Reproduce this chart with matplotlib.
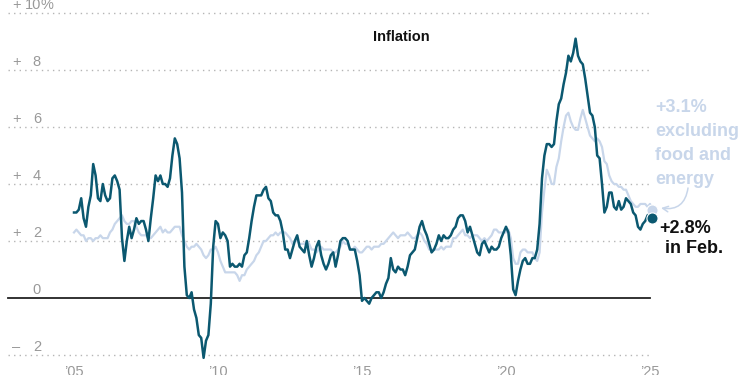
import matplotlib
matplotlib.use("Agg")
import matplotlib.pyplot as plt
import numpy as np

plt.rcParams['font.family'] = ['Liberation Sans', 'DejaVu Sans']

# Monthly year-over-year CPI change, Jan 2005 - Feb 2025
headline = [
    3.0, 3.0, 3.1, 3.5, 2.8, 2.5, 3.2, 3.6, 4.7, 4.3, 3.5, 3.4,   # 2005
    4.0, 3.6, 3.4, 3.5, 4.2, 4.3, 4.1, 3.8, 2.1, 1.3, 2.0, 2.5,   # 2006
    2.1, 2.4, 2.8, 2.6, 2.7, 2.7, 2.4, 2.0, 2.8, 3.5, 4.3, 4.1,   # 2007
    4.3, 4.0, 4.0, 3.9, 4.2, 5.0, 5.6, 5.4, 4.9, 3.7, 1.1, 0.1,   # 2008
    0.0, 0.2, -0.4, -0.7, -1.3, -1.4, -2.1, -1.5, -1.3, -0.2, 1.8, 2.7,  # 2009
    2.6, 2.1, 2.3, 2.2, 2.0, 1.1, 1.2, 1.1, 1.1, 1.2, 1.1, 1.5,   # 2010
    1.6, 2.1, 2.7, 3.2, 3.6, 3.6, 3.6, 3.8, 3.9, 3.5, 3.4, 3.0,   # 2011
    2.9, 2.9, 2.7, 2.3, 1.7, 1.7, 1.4, 1.7, 2.0, 2.2, 1.8, 1.7,   # 2012
    1.6, 2.0, 1.5, 1.1, 1.4, 1.8, 2.0, 1.5, 1.2, 1.0, 1.2, 1.5,   # 2013
    1.6, 1.1, 1.5, 2.0, 2.1, 2.1, 2.0, 1.7, 1.7, 1.7, 1.3, 0.8,   # 2014
    -0.1, 0.0, -0.1, -0.2, 0.0, 0.1, 0.2, 0.2, 0.0, 0.2, 0.5, 0.7,  # 2015
    1.4, 1.0, 0.9, 1.1, 1.0, 1.0, 0.8, 1.1, 1.5, 1.6, 1.7, 2.1,   # 2016
    2.5, 2.7, 2.4, 2.2, 1.9, 1.6, 1.7, 1.9, 2.2, 2.0, 2.2, 2.1,   # 2017
    2.1, 2.2, 2.4, 2.5, 2.8, 2.9, 2.9, 2.7, 2.3, 2.5, 2.2, 1.9,   # 2018
    1.6, 1.5, 1.9, 2.0, 1.8, 1.6, 1.8, 1.7, 1.7, 1.8, 2.1, 2.3,   # 2019
    2.5, 2.3, 1.5, 0.3, 0.1, 0.6, 1.0, 1.3, 1.4, 1.2, 1.2, 1.4,   # 2020
    1.4, 1.7, 2.6, 4.2, 5.0, 5.4, 5.4, 5.3, 5.4, 6.2, 6.8, 7.0,   # 2021
    7.5, 7.9, 8.5, 8.3, 8.6, 9.1, 8.5, 8.3, 8.2, 7.7, 7.1, 6.5,   # 2022
    6.4, 6.0, 5.0, 4.9, 4.0, 3.0, 3.2, 3.7, 3.7, 3.2, 3.1, 3.4,   # 2023
    3.1, 3.2, 3.5, 3.4, 3.3, 3.0, 2.9, 2.5, 2.4, 2.6, 2.7, 2.9,   # 2024
    3.0, 2.8,                                                     # 2025
]

core = [
    2.3, 2.4, 2.3, 2.2, 2.2, 2.0, 2.1, 2.1, 2.0, 2.1, 2.1, 2.2,   # 2005
    2.1, 2.1, 2.1, 2.3, 2.4, 2.6, 2.7, 2.8, 2.9, 2.7, 2.6, 2.6,   # 2006
    2.7, 2.7, 2.5, 2.3, 2.2, 2.2, 2.2, 2.1, 2.1, 2.2, 2.3, 2.4,   # 2007
    2.5, 2.3, 2.4, 2.3, 2.3, 2.4, 2.5, 2.5, 2.5, 2.2, 2.0, 1.8,   # 2008
    1.7, 1.8, 1.8, 1.9, 1.8, 1.7, 1.5, 1.4, 1.5, 1.7, 1.7, 1.8,   # 2009
    1.6, 1.3, 1.1, 0.9, 0.9, 0.9, 0.9, 0.9, 0.8, 0.6, 0.8, 0.8,   # 2010
    1.0, 1.1, 1.2, 1.3, 1.5, 1.6, 1.8, 2.0, 2.0, 2.1, 2.2, 2.2,   # 2011
    2.3, 2.2, 2.3, 2.3, 2.3, 2.2, 2.1, 1.9, 2.0, 2.0, 1.9, 1.9,   # 2012
    1.9, 2.0, 1.9, 1.7, 1.7, 1.6, 1.7, 1.8, 1.7, 1.7, 1.7, 1.7,   # 2013
    1.6, 1.6, 1.7, 1.8, 2.0, 1.9, 1.9, 1.7, 1.7, 1.8, 1.7, 1.6,   # 2014
    1.6, 1.7, 1.8, 1.8, 1.7, 1.8, 1.8, 1.8, 1.9, 1.9, 2.0, 2.1,   # 2015
    2.2, 2.3, 2.2, 2.1, 2.2, 2.2, 2.2, 2.3, 2.2, 2.1, 2.1, 2.2,   # 2016
    2.3, 2.2, 2.0, 1.9, 1.7, 1.7, 1.7, 1.7, 1.7, 1.8, 1.7, 1.8,   # 2017
    1.8, 1.8, 2.1, 2.1, 2.2, 2.3, 2.4, 2.2, 2.2, 2.1, 2.2, 2.2,   # 2018
    2.2, 2.1, 2.0, 2.1, 2.0, 2.1, 2.2, 2.4, 2.4, 2.3, 2.3, 2.3,   # 2019
    2.3, 2.4, 2.1, 1.4, 1.2, 1.2, 1.6, 1.7, 1.7, 1.6, 1.6, 1.6,   # 2020
    1.4, 1.3, 1.6, 3.0, 3.8, 4.5, 4.3, 4.0, 4.0, 4.6, 4.9, 5.5,   # 2021
    6.0, 6.4, 6.5, 6.2, 6.0, 5.9, 5.9, 6.3, 6.6, 6.3, 6.0, 5.7,   # 2022
    5.6, 5.5, 5.6, 5.5, 5.3, 4.8, 4.7, 4.3, 4.1, 4.0, 4.0, 3.9,   # 2023
    3.9, 3.8, 3.8, 3.6, 3.4, 3.3, 3.2, 3.2, 3.3, 3.3, 3.3, 3.2,   # 2024
    3.3, 3.1,                                                     # 2025
]

start_year = 2005
y_ticks = [10, 8, 6, 4, 2, 0, -2]
x_tick_years = [2005, 2010, 2015, 2020, 2025]
x_tick_labels = ["\u201905", "\u201910", "\u201915", "\u201920", "\u201925"]

DARK = "#0b5870"
LIGHT = "#c8d6ea"
GRAY = "#999999"

# pixel geometry helpers (figure is 750x375 at 100 dpi)
PX_PER_YEAR = 28.8
PX_PER_UNIT = 28.5
X0_PX = 74.0   # x pixel of Jan 2005
Y0_PX = 298.0  # y pixel of 0%

def px_x(p):
    return start_year + (p - X0_PX) / PX_PER_YEAR

def px_y(p):
    return (Y0_PX - p) / PX_PER_UNIT

fig = plt.figure(figsize=(7.5, 3.75), dpi=100)
ax = fig.add_axes([0, 0, 1, 1])
ax.set_xlim(px_x(0), px_x(750))
ax.set_ylim(px_y(375), px_y(0))
ax.axis("off")

n = len(headline)
x = start_year + np.arange(n) / 12.0

# grid lines
grid_left = px_x(8)
grid_right = px_x(650)
for v in y_ticks:
    if v == 0:
        ax.plot([grid_left, grid_right], [0, 0], color="#222222", lw=1.3, zorder=2)
    else:
        ax.plot([grid_left, grid_right], [v, v], color="#b5b5b5", lw=1.0,
                dashes=(1, 3), zorder=1)

# y tick labels
dy = 4 / PX_PER_UNIT
for v in y_ticks:
    fs = 10.5
    yb = v + dy
    if v == 0:
        ax.text(px_x(41), yb, "0", ha="right", va="baseline", color=GRAY, fontsize=fs)
        continue
    sign = "+" if v > 0 else "\u2013"
    ax.text(px_x(12), yb, sign, ha="left", va="baseline", color=GRAY, fontsize=fs)
    ax.text(px_x(41), yb, str(abs(v)), ha="right", va="baseline", color=GRAY, fontsize=fs)
    if v == 10:
        ax.text(px_x(41), yb, "%", ha="left", va="baseline", color=GRAY, fontsize=fs)

# x tick labels
for yr, lab in zip(x_tick_years, x_tick_labels):
    ax.text(yr, px_y(376), lab, ha="center", va="baseline", color=GRAY, fontsize=10.5)

# lines
ax.plot(x, core, color=LIGHT, lw=1.6, zorder=3, solid_joinstyle="round")
ax.plot(x, headline, color=DARK, lw=1.8, zorder=4, solid_joinstyle="round")
ax.plot([x[-1]], [core[-1]], "o", color=LIGHT, ms=8, zorder=5, mec="white", mew=0.8)
ax.plot([x[-1]], [headline[-1]], "o", color=DARK, ms=8, zorder=6, mec="white", mew=0.8)

# title
ax.text(px_x(401), px_y(37), "Inflation", ha="center", va="center",
        fontsize=10.5, fontweight="bold", color="#111111")

# annotations
ax.text(px_x(655), px_y(99), "+3.1%\nexcluding\nfood and\nenergy", ha="left", va="top",
        fontsize=13, fontweight="bold", color=LIGHT, linespacing=1.55)
ax.text(px_x(659), px_y(220), "+2.8%", ha="left", va="top",
        fontsize=13, fontweight="bold", color="#111111")
ax.text(px_x(665), px_y(240), "in Feb.", ha="left", va="top",
        fontsize=13, fontweight="bold", color="#111111")

ax.annotate("", xy=(px_x(661), px_y(208)), xytext=(px_x(688), px_y(188)),
            arrowprops=dict(arrowstyle="->", color=LIGHT, lw=1.1,
                            connectionstyle="arc3,rad=-0.5", shrinkA=0, shrinkB=0))

fig.savefig("out.png", dpi=100)
